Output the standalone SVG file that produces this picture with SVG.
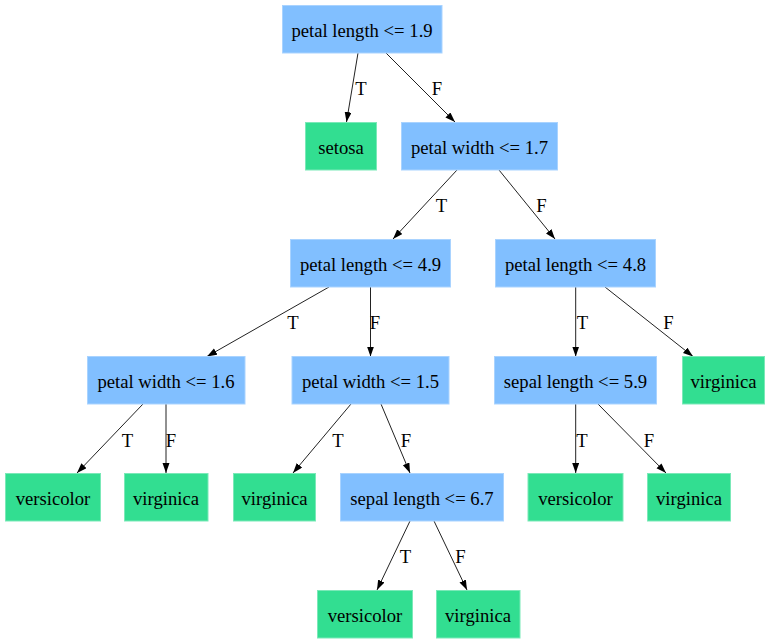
<svg xmlns="http://www.w3.org/2000/svg" width="771" height="644" viewBox="0 0 771 644">
  <style>
    .split rect { fill: #81bfff; stroke: #a9d3ff; stroke-width: 1; }
    .leaf rect { fill: #32de91; stroke: #7be9b8; stroke-width: 1; }
    .edge { stroke: #222; stroke-width: 1; fill: none; marker-end: url(#arrow); }
  </style>
  <defs>
    <marker id="arrow" markerUnits="userSpaceOnUse" markerWidth="11" markerHeight="8" refX="10" refY="3.5" orient="auto">
      <path d="M0,0 L10,3.5 L0,7 Z" fill="#000"/>
    </marker>
  </defs>
  <rect width="771" height="644" fill="#fff"/>

  <g font-family="Liberation Serif, DejaVu Serif, serif" font-size="18.67" fill="#000" text-anchor="middle">
  <g id="connectors">
    <line class="edge" x1="358" y1="53" x2="346.5" y2="122"/>
    <text x="361" y="95">T</text>
    <line class="edge" x1="386" y1="53" x2="455" y2="122"/>
    <text x="437" y="95">F</text>

    <line class="edge" x1="457" y1="170" x2="393" y2="239"/>
    <text x="441.5" y="212">T</text>
    <line class="edge" x1="499" y1="170" x2="555" y2="239"/>
    <text x="541.5" y="212">F</text>

    <line class="edge" x1="329" y1="287" x2="207" y2="356.5"/>
    <text x="293" y="329">T</text>
    <line class="edge" x1="370.5" y1="287" x2="370.5" y2="356.5"/>
    <text x="375" y="329">F</text>

    <line class="edge" x1="575.7" y1="287" x2="575.7" y2="356.5"/>
    <text x="582.5" y="329">T</text>
    <line class="edge" x1="605" y1="287" x2="693" y2="356.5"/>
    <text x="668.5" y="329">F</text>

    <line class="edge" x1="143" y1="404" x2="77" y2="473"/>
    <text x="127.5" y="446.5">T</text>
    <line class="edge" x1="166" y1="404" x2="166" y2="473"/>
    <text x="171" y="446.5">F</text>

    <line class="edge" x1="351" y1="404" x2="293" y2="473"/>
    <text x="338" y="446.5">T</text>
    <line class="edge" x1="381" y1="404" x2="410" y2="473"/>
    <text x="406" y="446.5">F</text>

    <line class="edge" x1="575.7" y1="404" x2="575.7" y2="473"/>
    <text x="582" y="446.5">T</text>
    <line class="edge" x1="598" y1="404" x2="666" y2="473"/>
    <text x="649" y="446.5">F</text>

    <line class="edge" x1="410" y1="521" x2="377" y2="590"/>
    <text x="405.5" y="563">T</text>
    <line class="edge" x1="434" y1="521" x2="467" y2="590"/>
    <text x="460.5" y="563">F</text>
  </g>

  <g id="n0" class="split"><rect x="282.5" y="5.5" width="159.5" height="47.5"/><text x="362" y="36.5">petal length &lt;= 1.9</text></g>
  <g id="n1" class="leaf"><rect x="305.5" y="122.5" width="71" height="47.5"/><text x="341" y="153.5">setosa</text></g>
  <g id="n2" class="split"><rect x="401.5" y="122.5" width="156" height="47.5"/><text x="479.5" y="153.5">petal width &lt;= 1.7</text></g>
  <g id="n3" class="split"><rect x="290.5" y="239.5" width="160" height="47.5"/><text x="370.5" y="270.5">petal length &lt;= 4.9</text></g>
  <g id="n4" class="split"><rect x="495.5" y="239.5" width="160" height="47.5"/><text x="575.5" y="270.5">petal length &lt;= 4.8</text></g>
  <g id="n5" class="split"><rect x="87.5" y="356.5" width="157.5" height="47.5"/><text x="166" y="387.5">petal width &lt;= 1.6</text></g>
  <g id="n6" class="split"><rect x="292" y="356.5" width="157" height="47.5"/><text x="370.5" y="387.5">petal width &lt;= 1.5</text></g>
  <g id="n7" class="split"><rect x="494.5" y="356.5" width="162" height="47.5"/><text x="575.5" y="387.5">sepal length &lt;= 5.9</text></g>
  <g id="n8" class="leaf"><rect x="682.5" y="356.5" width="82" height="47.5"/><text x="723.5" y="387.5">virginica</text></g>
  <g id="n9" class="leaf"><rect x="5.5" y="473.5" width="95" height="47.5"/><text x="53" y="504.5">versicolor</text></g>
  <g id="n10" class="leaf"><rect x="124.5" y="473.5" width="83.5" height="47.5"/><text x="166" y="504.5">virginica</text></g>
  <g id="n11" class="leaf"><rect x="233.5" y="473.5" width="82" height="47.5"/><text x="274.5" y="504.5">virginica</text></g>
  <g id="n12" class="split"><rect x="340.5" y="473.5" width="163" height="47.5"/><text x="422" y="504.5">sepal length &lt;= 6.7</text></g>
  <g id="n13" class="leaf"><rect x="528" y="473.5" width="95" height="47.5"/><text x="575.5" y="504.5">versicolor</text></g>
  <g id="n14" class="leaf"><rect x="647.5" y="473.5" width="83" height="47.5"/><text x="689" y="504.5">virginica</text></g>
  <g id="n15" class="leaf"><rect x="317.5" y="590.5" width="95" height="47.5"/><text x="365" y="621.5">versicolor</text></g>
  <g id="n16" class="leaf"><rect x="436.5" y="590.5" width="83.5" height="47.5"/><text x="478" y="621.5">virginica</text></g>
  </g>
</svg>
